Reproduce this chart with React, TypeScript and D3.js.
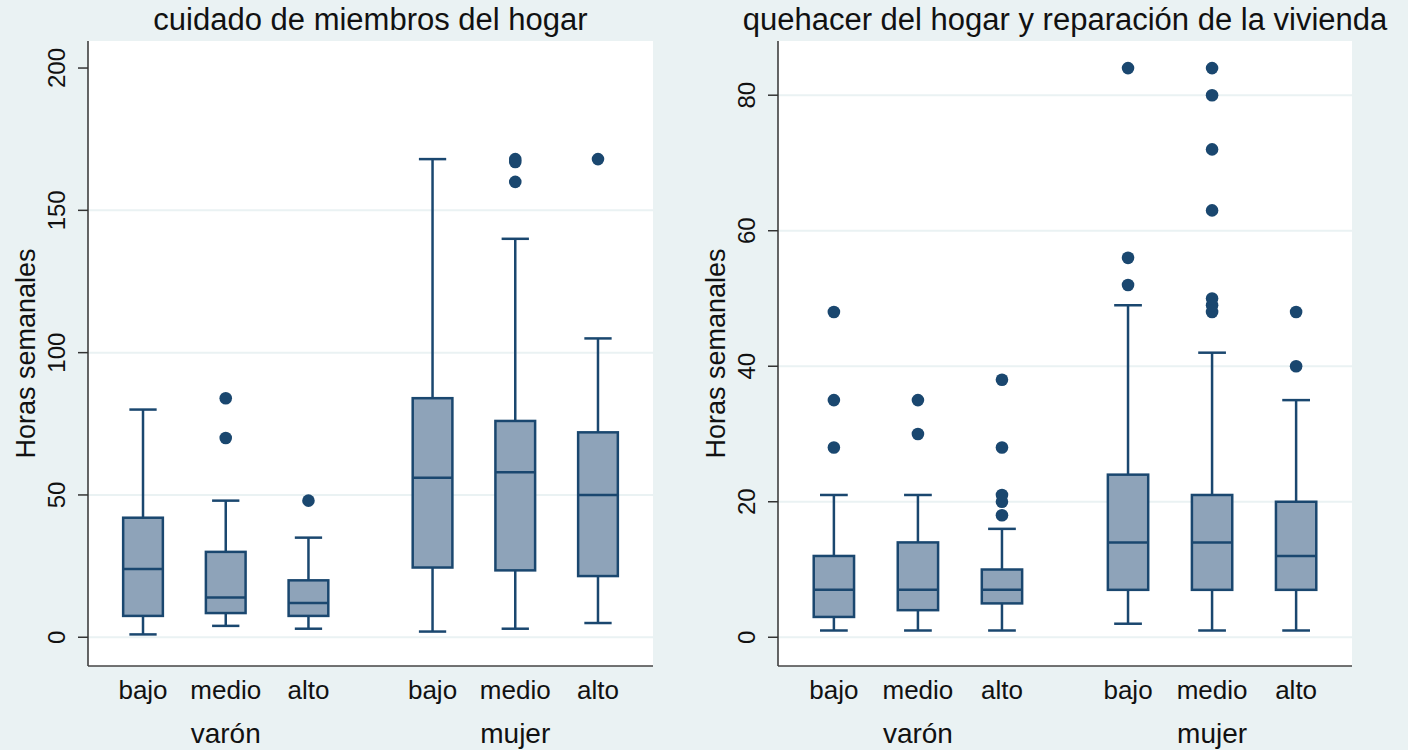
import * as d3 from "d3";

const levels = ["bajo", "medio", "alto"];
const groups = ["varón", "mujer"];
// slot positions along x: 3 levels, gap, 3 levels
const slots = [0, 1, 2, 3.5, 4.5, 5.5];

// cuidado de miembros del hogar
const cuidadoLow = [1, 4, 3, 2, 3, 5];
const cuidadoQ1 = [7.5, 8.5, 7.5, 24.5, 23.5, 21.5];
const cuidadoMedian = [24, 14, 12, 56, 58, 50];
const cuidadoQ3 = [42, 30, 20, 84, 76, 72];
const cuidadoHigh = [80, 48, 35, 168, 140, 105];
const cuidadoOutliers = [[], [70, 84], [48], [], [160, 167, 168], [168]];
const cuidadoTicks = [0, 50, 100, 150, 200];

// quehacer del hogar y reparación de la vivienda
const quehacerLow = [1, 1, 1, 2, 1, 1];
const quehacerQ1 = [3, 4, 5, 7, 7, 7];
const quehacerMedian = [7, 7, 7, 14, 14, 12];
const quehacerQ3 = [12, 14, 10, 24, 21, 20];
const quehacerHigh = [21, 21, 16, 49, 42, 35];
const quehacerOutliers = [
  [28, 35, 48],
  [30, 35],
  [18, 20, 21, 28, 38],
  [52, 56, 84],
  [48, 49, 50, 63, 72, 80, 84],
  [40, 48],
];
const quehacerTicks = [0, 20, 40, 60, 80];

const BG = "#eaf2f3";
const NAVY = "#1a476f";
const FILL = "#8ea3b9";
const FONT = "'Liberation Sans', Arial, Helvetica, sans-serif";

type PanelProps = {
  title: string;
  x0: number;
  x1: number;
  domain: [number, number];
  ticks: number[];
  gridTicks: number[];
  low: number[];
  q1: number[];
  median: number[];
  q3: number[];
  high: number[];
  outliers: number[][];
};

function Panel(p: PanelProps) {
  const top = 41;
  const bottom = 666;
  const x = d3.scaleLinear().domain([-0.665, 6.165]).range([p.x0, p.x1]);
  const y = d3.scaleLinear().domain(p.domain).range([bottom, top]);
  const step = x(1) - x(0);
  const boxW = step * 0.48;
  const capW = step * 0.33;
  const cx = (p.x0 + p.x1) / 2;
  const cy = (top + bottom) / 2;

  return (
    <g>
      <rect x={p.x0} y={top} width={p.x1 - p.x0} height={bottom - top} fill="#fff" />
      {p.gridTicks.map((t) => (
        <line key={"g" + t} x1={p.x0} x2={p.x1} y1={y(t)} y2={y(t)} stroke={BG} strokeWidth={2} />
      ))}
      <text x={cx} y={30} textAnchor="middle" fontSize={31} fontFamily={FONT} fill="#111">
        {p.title}
      </text>
      {/* y axis */}
      <line x1={p.x0} x2={p.x0} y1={top} y2={bottom} stroke="#333" strokeWidth={1.5} />
      {p.ticks.map((t) => (
        <g key={"t" + t}>
          <line x1={p.x0 - 10} x2={p.x0} y1={y(t)} y2={y(t)} stroke="#333" strokeWidth={1.5} />
          <text
            transform={`translate(${p.x0 - 23},${y(t)}) rotate(-90)`}
            textAnchor="middle"
            fontSize={24}
            fontFamily={FONT}
            fill="#111"
          >
            {t}
          </text>
        </g>
      ))}
      <text
        transform={`translate(${p.x0 - 53},${cy}) rotate(-90)`}
        textAnchor="middle"
        fontSize={27}
        fontFamily={FONT}
        fill="#111"
      >
        Horas semanales
      </text>
      {/* x axis */}
      <line x1={p.x0} x2={p.x1} y1={bottom} y2={bottom} stroke="#444" strokeWidth={1.5} />
      {slots.map((s, i) => (
        <text key={"c" + i} x={x(s)} y={699} textAnchor="middle" fontSize={26} fontFamily={FONT} fill="#111">
          {levels[i % 3]}
        </text>
      ))}
      {groups.map((g, i) => (
        <text key={g} x={x(slots[i * 3 + 1])} y={743} textAnchor="middle" fontSize={28} fontFamily={FONT} fill="#111">
          {g}
        </text>
      ))}
      {/* boxes */}
      {slots.map((s, i) => {
        const xc = x(s);
        return (
          <g key={"b" + i} stroke={NAVY} strokeWidth={2.5} fill="none">
            <line x1={xc} x2={xc} y1={y(p.high[i])} y2={y(p.q3[i])} />
            <line x1={xc} x2={xc} y1={y(p.q1[i])} y2={y(p.low[i])} />
            <line x1={xc - capW / 2} x2={xc + capW / 2} y1={y(p.high[i])} y2={y(p.high[i])} />
            <line x1={xc - capW / 2} x2={xc + capW / 2} y1={y(p.low[i])} y2={y(p.low[i])} />
            <rect
              x={xc - boxW / 2}
              y={y(p.q3[i])}
              width={boxW}
              height={y(p.q1[i]) - y(p.q3[i])}
              fill={FILL}
            />
            <line x1={xc - boxW / 2} x2={xc + boxW / 2} y1={y(p.median[i])} y2={y(p.median[i])} />
            {p.outliers[i].map((o, j) => (
              <circle key={j} cx={xc} cy={y(o)} r={6.3} fill={NAVY} stroke="none" />
            ))}
          </g>
        );
      })}
    </g>
  );
}

export default function App() {
  return (
    <svg
      width={1408}
      height={750}
      style={{ position: "absolute", left: 0, top: 0 }}
      viewBox="0 0 1408 750"
    >
      <rect width={1408} height={750} fill={BG} />
      <Panel
        title="cuidado de miembros del hogar"
        x0={88}
        x1={653}
        domain={[-10.1, 209.5]}
        ticks={cuidadoTicks}
        gridTicks={cuidadoTicks.slice(0, 4)}
        low={cuidadoLow}
        q1={cuidadoQ1}
        median={cuidadoMedian}
        q3={cuidadoQ3}
        high={cuidadoHigh}
        outliers={cuidadoOutliers}
      />
      <Panel
        title="quehacer del hogar y reparación de la vivienda"
        x0={778}
        x1={1352}
        domain={[-4.24, 88]}
        ticks={quehacerTicks}
        gridTicks={quehacerTicks}
        low={quehacerLow}
        q1={quehacerQ1}
        median={quehacerMedian}
        q3={quehacerQ3}
        high={quehacerHigh}
        outliers={quehacerOutliers}
      />
    </svg>
  );
}
